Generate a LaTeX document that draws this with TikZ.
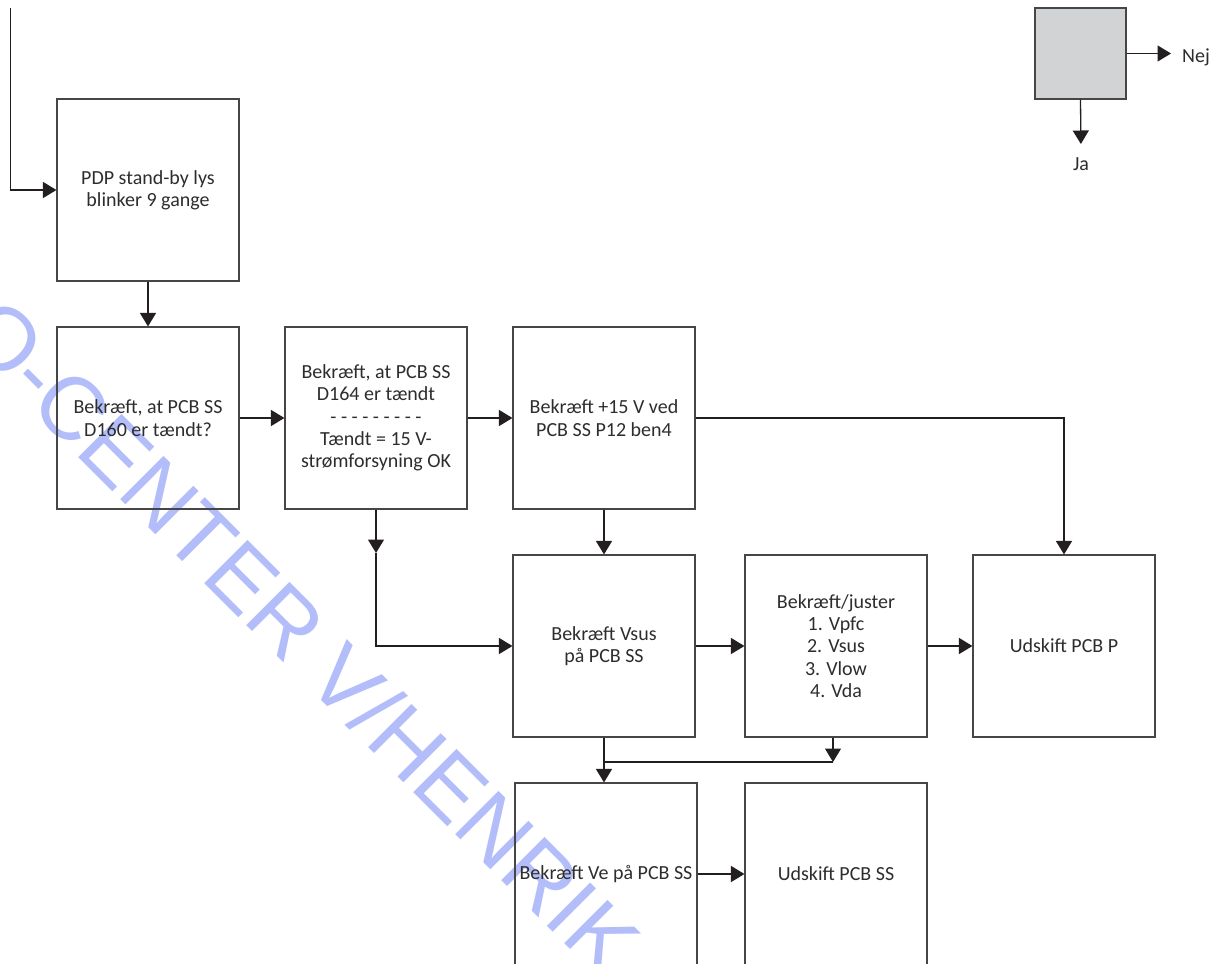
\documentclass[tikz,border=0pt]{standalone}
\usepackage{fontspec}
\setmainfont{Carlito}
\newfontfamily\markfont{Liberation Sans}
\usetikzlibrary{arrows.meta}
\definecolor{ink}{RGB}{35,31,32}
\definecolor{txt}{RGB}{45,45,45}
\definecolor{frame}{RGB}{70,70,70}
\definecolor{keyfill}{RGB}{209,211,212}
\definecolor{stamp}{RGB}{178,189,250}
\tikzset{
  stepbox/.style={draw=frame, line width=1.1pt, minimum width=182pt, minimum height=182pt,
    inner sep=2pt, align=center, text=txt, font={\fontsize{20}{22.3}\selectfont}},
  keybox/.style={draw=frame, line width=1.1pt, fill=keyfill, minimum width=91pt, minimum height=91pt},
  lbl/.style={inner sep=0pt, text=txt, font={\fontsize{20}{22.3}\selectfont}},
  arr/.style={draw=ink, line width=1.3pt, -{Triangle[length=13.5pt,width=16pt]}},
  ln/.style={draw=ink, line width=1.3pt}
}
\begin{document}
\begin{tikzpicture}[x=1pt, y=-1pt]
\useasboundingbox (0,0) rectangle (1222,963);
\clip (0,0) rectangle (1222,963);

% background stamp text
\node[text=stamp, font={\markfont\fontsize{89}{89}\selectfont}, rotate=-45, inner sep=0pt]
  (stamp) at (302,636) {O-CENTER V/HENRIK};

% key
\node[keybox] (key) at (1080.5,53.5) {};
\node[lbl, anchor=west] (nej) at (1182,57) {Nej};
\node[lbl, anchor=north] (ja) at (1081,157) {Ja};
\draw[arr, shorten >=11pt] (key.east) -- (key.east -| nej.west);
\draw[arr, shorten >=13pt] (key.south) -- (ja.north);

% steps
\node[stepbox] (pdp)    at (148,190) {PDP stand-by lys\\blinker 9 gange};
\node[stepbox] (d160)   at (148,418) {Bekræft, at PCB SS\\D160 er tændt?};
\node[stepbox] (d164)   at (376,418) {Bekræft, at PCB SS\\D164 er tændt\\- - - - - - - - -\\Tændt = 15 V-\\strømforsyning OK};
\node[stepbox] (p12)    at (604,418) {Bekræft +15 V ved\\PCB SS P12 ben4};
\node[stepbox] (vsus)   at (604,646) {Bekræft Vsus\\på PCB SS};
\node[stepbox] (juster) at (836,646) {Bekræft/juster\\1. Vpfc\\2. Vsus\\3. Vlow\\4. Vda};
\node[stepbox] (pcbp)   at (1064,646) {Udskift PCB P};
\node[stepbox] (ve)     at (606,874) {Bekræft Ve på PCB SS};
\node[stepbox] (pcbss)  at (836,874) {Udskift PCB SS};

% connectors
\coordinate (entry) at (10.7,8);
\draw[arr] (entry) |- (pdp.west);
\draw[arr] (pdp.south) -- (d160.north);
\draw[arr] (d160.east) -- (d164.west);
\draw[arr] (d164.east) -- (p12.west);
\draw[arr] (p12.east) -| (pcbp.north);
\draw[arr] (p12.south) -- (vsus.north);

\coordinate (dmid) at (376,553);
\draw[arr] (d164.south) -- (dmid);
\draw[arr] (dmid) |- (vsus.west);

\draw[arr] (vsus.east) -- (juster.west);
\draw[arr] (juster.east) -- (pcbp.west);

\coordinate (jmid) at (833,762);
\draw[arr] (juster.south -| jmid) -- (jmid);
\draw[ln] (jmid) -- (jmid -| vsus.south);
\draw[arr] (vsus.south) -- (vsus.south |- ve.north);
\draw[arr] (ve.east) -- (pcbss.west);
\end{tikzpicture}
\end{document}
